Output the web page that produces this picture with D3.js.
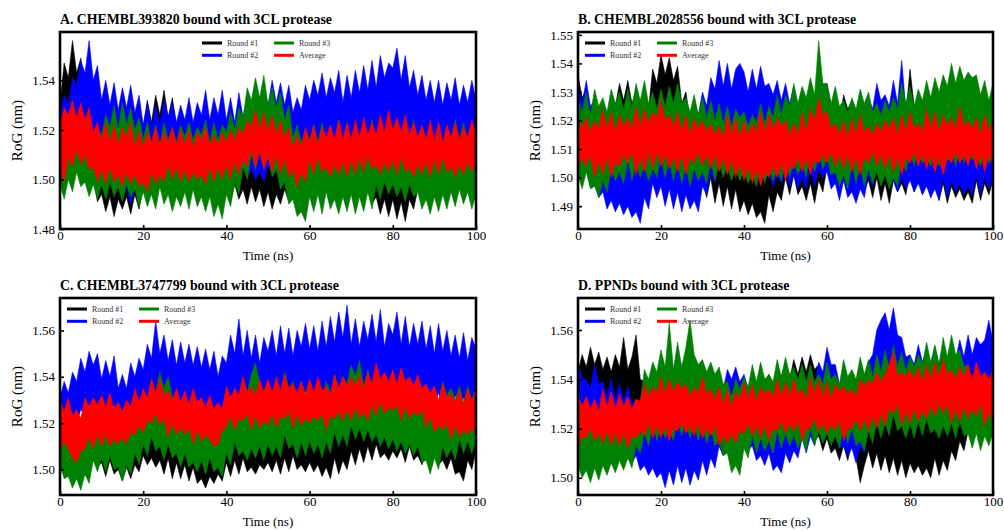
<!DOCTYPE html>
<html><head><meta charset="utf-8">
<script src="https://cdn.jsdelivr.net/npm/d3@7"></script>
<style>body{margin:0;background:#fff}svg{display:block}</style>
</head><body>
<svg id="c" width="1004" height="531"></svg>
<script>
// Time axis (ns)
const timeNs = [0,1,2,3,4,5,6,7,8,9,10,11,12,13,14,15,16,17,18,19,20,21,22,23,24,25,26,27,28,29,30,31,32,33,34,35,36,37,38,39,40,41,42,43,44,45,46,47,48,49,50,51,52,53,54,55,56,57,58,59,60,61,62,63,64,65,66,67,68,69,70,71,72,73,74,75,76,77,78,79,80,81,82,83,84,85,86,87,88,89,90,91,92,93,94,95,96,97,98,99,100];

// RoG envelopes per 1 ns window, in pm (1 nm = 1000 pm): lo = window minimum, hi = window maximum
// ---- Panel A ----
const A_r1_hi = [1530,1547,1541,1556,1543,1549,1531,1536,1522,1527, 1516,1523,1514,1525,1513,1522,1515,1526,1517,1524, 1521,1532,1523,1534,1526,1536,1525,1533,1522,1528, 1517,1524,1516,1525,1518,1523,1515,1526,1516,1524, 1516,1525,1515,1523,1514,1524,1516,1526,1517,1522, 1518,1524,1515,1521,1513,1519,1512,1518,1514,1522, 1513,1523,1515,1521,1514,1522,1516,1524,1513,1522, 1515,1524,1514,1522,1517,1525,1516,1521,1514,1522, 1512,1521,1513,1520,1514,1523,1513,1524,1515,1520, 1514,1522,1515,1523,1514,1525,1515,1522,1513,1523, 1516];
const A_r1_lo = [1510,1504,1515,1508,1514,1506,1508,1498,1501,1491, 1494,1487,1493,1485,1492,1488,1493,1486,1494,1488, 1497,1493,1503,1497,1504,1499,1505,1496,1502,1494, 1498,1492,1497,1491,1499,1493,1498,1490,1497,1493, 1498,1491,1498,1492,1496,1490,1497,1491,1496,1489, 1495,1488,1494,1490,1496,1491,1497,1492,1498,1494, 1499,1493,1500,1492,1499,1494,1500,1493,1498,1494, 1498,1491,1499,1492,1496,1490,1493,1486,1492,1485, 1492,1484,1491,1483,1492,1488,1496,1492,1498,1491, 1498,1492,1499,1493,1500,1492,1497,1493,1498,1493, 1498];
const A_r2_hi = [1526,1534,1530,1541,1538,1548,1543,1556,1540,1546, 1532,1540,1530,1539,1528,1537,1529,1538,1527,1534, 1522,1531,1521,1530,1522,1532,1525,1531,1523,1530, 1524,1533,1523,1531,1526,1536,1524,1533,1526,1536, 1524,1533,1523,1535,1525,1533,1524,1532,1527,1536, 1530,1540,1531,1539,1530,1538,1527,1533,1528,1538, 1532,1540,1534,1543,1533,1541,1535,1544,1531,1542, 1533,1544,1535,1546,1536,1548,1537,1550,1541,1547, 1545,1553,1540,1550,1537,1544,1534,1542,1532,1540, 1531,1540,1530,1539,1532,1541,1530,1538,1531,1540, 1532];
const A_r2_lo = [1510,1505,1513,1508,1516,1511,1518,1513,1516,1508, 1506,1499,1502,1496,1500,1494,1497,1490,1496,1491, 1499,1495,1503,1497,1502,1498,1503,1496,1501,1497, 1500,1494,1501,1495,1503,1497,1504,1498,1505,1499, 1505,1499,1506,1500,1507,1501,1504,1500,1503,1499, 1506,1502,1510,1506,1513,1507,1510,1505,1509,1506, 1514,1508,1515,1509,1516,1510,1513,1509,1514,1510, 1515,1510,1516,1509,1516,1512,1515,1511,1518,1512, 1518,1511,1517,1510,1516,1509,1515,1508,1514,1510, 1513,1509,1512,1508,1515,1509,1514,1508,1514,1510, 1513];
const A_r3_hi = [1510,1516,1512,1518,1514,1517,1512,1519,1514,1521, 1518,1526,1521,1530,1520,1531,1522,1529,1520,1525, 1516,1523,1515,1522,1514,1523,1516,1521,1515,1522, 1517,1523,1516,1521,1518,1524,1515,1523,1516,1522, 1519,1527,1520,1529,1525,1537,1532,1541,1533,1542, 1530,1537,1529,1535,1524,1530,1517,1522,1515,1520, 1516,1522,1515,1523,1514,1521,1515,1524,1514,1520, 1516,1523,1515,1522,1517,1524,1514,1522,1518,1524, 1517,1523,1516,1522,1515,1524,1514,1521,1516,1522, 1515,1523,1514,1522,1515,1524,1516,1523,1515,1521, 1517];
const A_r3_lo = [1498,1492,1500,1495,1503,1497,1499,1493,1498,1492, 1498,1492,1499,1493,1497,1491,1498,1493,1496,1489, 1495,1489,1494,1488,1497,1490,1494,1487,1493,1489, 1495,1488,1496,1489,1493,1487,1493,1485,1490,1484, 1494,1489,1499,1494,1505,1500,1510,1504,1511,1505, 1509,1501,1504,1496,1499,1490,1492,1485,1487,1483, 1493,1487,1494,1486,1495,1488,1492,1486,1493,1487, 1494,1486,1493,1487,1495,1488,1498,1492,1499,1494, 1498,1493,1497,1491,1498,1493,1495,1488,1492,1486, 1493,1487,1494,1488,1495,1489,1496,1490,1495,1488, 1494];
const A_avg_hi = [1522,1529,1526,1532,1525,1531,1524,1529,1519,1523, 1516,1523,1515,1522,1514,1521,1517,1523,1513,1520, 1513,1519,1515,1521,1514,1519,1515,1521,1514,1520, 1514,1520,1513,1519,1516,1521,1514,1518,1514,1519, 1515,1520,1516,1521,1518,1524,1521,1528,1520,1527, 1519,1526,1518,1524,1517,1521,1513,1518,1513,1521, 1515,1522,1514,1521,1517,1522,1516,1524,1516,1523, 1516,1524,1517,1525,1518,1523,1518,1526,1519,1528, 1520,1525,1519,1526,1518,1523,1517,1522,1516,1524, 1516,1523,1515,1522,1517,1523,1516,1521,1517,1524, 1518];
const A_avg_lo = [1504,1499,1509,1505,1512,1506,1510,1504,1505,1499, 1504,1498,1505,1499,1502,1497,1503,1498,1502,1497, 1499,1495,1503,1498,1502,1499,1506,1500,1505,1499, 1504,1499,1503,1500,1502,1498,1505,1499,1505,1500, 1506,1500,1507,1502,1508,1505,1512,1505,1511,1504, 1509,1503,1510,1502,1508,1501,1504,1497,1503,1499, 1508,1502,1509,1503,1505,1501,1506,1502,1507,1501, 1508,1502,1509,1503,1510,1504,1506,1502,1507,1503, 1508,1502,1509,1503,1505,1501,1506,1502,1507,1501, 1508,1502,1509,1503,1505,1501,1506,1502,1507,1503, 1507];

// ---- Panel B ----
const B_r1_hi = [1536,1528,1531,1522,1526,1519,1525,1521,1527,1525, 1533,1527,1534,1526,1530,1520,1528,1524,1538,1533, 1543,1536,1542,1534,1539,1526,1530,1520,1527,1519, 1525,1518,1524,1517,1523,1516,1522,1515,1521,1514, 1520,1513,1519,1512,1518,1513,1520,1514,1521,1515, 1522,1516,1523,1517,1524,1518,1525,1519,1526,1520, 1522,1518,1524,1519,1529,1524,1527,1518,1525,1519, 1521,1517,1523,1516,1523,1517,1524,1518,1525,1522, 1538,1525,1527,1520,1522,1517,1521,1516,1520,1515, 1519,1514,1520,1515,1521,1514,1520,1513,1519,1514, 1520];
const B_r1_lo = [1505,1499,1503,1497,1502,1495,1503,1497,1504,1500, 1508,1504,1512,1505,1506,1500,1507,1501,1508,1504, 1513,1508,1512,1505,1507,1499,1502,1495,1503,1496, 1499,1493,1500,1491,1498,1490,1497,1489,1496,1488, 1492,1487,1491,1486,1488,1484,1494,1488,1495,1492, 1500,1494,1501,1494,1497,1492,1498,1491,1499,1495, 1504,1498,1505,1499,1506,1500,1502,1495,1503,1496, 1499,1493,1500,1492,1498,1491,1499,1495,1498,1494, 1502,1495,1501,1494,1500,1493,1499,1492,1498,1491, 1497,1493,1496,1492,1495,1491,1499,1492,1498,1494, 1499];
const B_r2_hi = [1532,1526,1534,1525,1527,1520,1521,1514,1520,1513, 1519,1512,1518,1511,1513,1510,1518,1513,1520,1514, 1521,1515,1517,1513,1518,1514,1523,1516,1524,1522, 1530,1525,1535,1531,1541,1532,1540,1531,1538,1540, 1537,1530,1538,1531,1539,1532,1533,1529,1534,1527, 1533,1526,1532,1525,1531,1526,1530,1525,1529,1527, 1533,1525,1526,1519,1525,1518,1524,1517,1523,1522, 1528,1524,1533,1527,1529,1525,1534,1526,1541,1524, 1524,1517,1518,1514,1517,1513,1516,1512,1520,1513, 1519,1514,1518,1513,1517,1512,1521,1514,1520,1513, 1519];
const B_r2_lo = [1504,1498,1505,1497,1499,1493,1495,1489,1492,1488, 1491,1487,1490,1486,1488,1484,1493,1489,1498,1493, 1497,1490,1496,1489,1495,1488,1494,1489,1492,1488, 1497,1494,1502,1498,1507,1501,1508,1502,1504,1501, 1505,1498,1504,1497,1503,1499,1502,1497,1501,1498, 1502,1497,1501,1496,1500,1496,1504,1497,1503,1500, 1502,1496,1498,1492,1499,1493,1495,1491,1496,1493, 1501,1497,1505,1498,1504,1497,1499,1495,1500,1496, 1499,1495,1498,1494,1497,1493,1496,1492,1500,1493, 1499,1495,1498,1494,1497,1494,1501,1494,1500,1496, 1500];
const B_r3_hi = [1528,1523,1530,1522,1531,1525,1528,1523,1531,1526, 1530,1524,1531,1525,1533,1527,1534,1526,1530,1524, 1531,1525,1532,1526,1533,1526,1528,1523,1529,1522, 1528,1521,1527,1520,1526,1519,1525,1518,1524,1521, 1523,1518,1522,1519,1526,1519,1525,1521,1529,1522, 1529,1525,1533,1526,1532,1528,1535,1529,1548,1533, 1533,1526,1532,1525,1527,1523,1528,1524,1531,1526, 1530,1523,1526,1522,1527,1523,1528,1524,1533,1526, 1532,1525,1531,1527,1534,1528,1535,1530,1536,1532, 1540,1533,1539,1534,1537,1535,1536,1529,1534,1527, 1533];
const B_r3_lo = [1501,1496,1502,1496,1497,1493,1499,1495,1503,1499, 1502,1498,1506,1499,1505,1500,1504,1499,1503,1500, 1507,1500,1506,1499,1505,1498,1504,1497,1503,1499, 1502,1498,1506,1499,1505,1500,1504,1499,1503,1499, 1502,1498,1501,1497,1505,1498,1504,1499,1503,1499, 1507,1500,1506,1501,1505,1500,1509,1502,1508,1503, 1507,1501,1502,1497,1501,1496,1505,1498,1504,1497, 1503,1498,1502,1497,1501,1496,1500,1497,1506,1502, 1510,1504,1511,1505,1507,1504,1508,1504,1509,1506, 1510,1504,1511,1505,1512,1506,1508,1504,1509,1505, 1509];
const B_avg_hi = [1522,1517,1521,1516,1520,1517,1524,1517,1523,1516, 1522,1518,1521,1517,1525,1518,1524,1519,1523,1521, 1527,1520,1522,1518,1523,1516,1522,1515,1521,1517, 1520,1516,1519,1515,1518,1514,1522,1515,1521,1514, 1520,1515,1519,1516,1523,1516,1522,1517,1521,1518, 1520,1515,1519,1515,1523,1516,1524,1520,1528,1522, 1523,1517,1519,1515,1520,1514,1521,1515,1522,1516, 1518,1515,1519,1516,1520,1517,1521,1515,1522,1516, 1523,1517,1519,1516,1524,1517,1523,1516,1522,1518, 1521,1517,1525,1518,1520,1517,1521,1515,1522,1516, 1521];
const B_avg_lo = [1503,1507,1504,1508,1500,1506,1501,1507,1500,1505, 1504,1508,1505,1509,1501,1507,1502,1509,1503,1509, 1504,1508,1503,1507,1502,1508,1501,1507,1505,1509, 1504,1508,1503,1508,1502,1507,1501,1506,1500,1505, 1499,1504,1498,1503,1497,1502,1500,1504,1500,1505, 1499,1504,1503,1507,1502,1507,1501,1506,1505,1508, 1505,1509,1504,1508,1503,1508,1502,1507,1501,1507, 1505,1509,1504,1508,1503,1508,1502,1507,1501,1507, 1505,1509,1504,1508,1503,1508,1502,1507,1501,1507, 1505,1509,1505,1508,1504,1509,1503,1508,1502,1508, 1504];

// ---- Panel C ----
const C_r1_hi = [1522,1517,1523,1516,1521,1515,1520,1516,1519,1517, 1518,1513,1519,1514,1515,1512,1516,1511,1517,1512, 1520,1517,1521,1519,1522,1517,1523,1515,1521,1514, 1519,1513,1518,1512,1517,1511,1516,1514,1515,1513, 1520,1515,1521,1516,1522,1517,1523,1518,1519,1516, 1520,1517,1521,1518,1527,1519,1521,1516,1522,1517, 1518,1515,1519,1514,1520,1515,1521,1517,1520,1518, 1524,1519,1525,1520,1526,1521,1527,1522,1523,1520, 1524,1521,1525,1520,1526,1521,1522,1519,1523,1518, 1524,1519,1520,1517,1521,1515,1516,1515,1522,1517, 1523];
const C_r1_lo = [1508,1502,1509,1503,1505,1500,1506,1500,1507,1501, 1503,1497,1504,1498,1500,1495,1501,1496,1502,1499, 1506,1502,1505,1501,1504,1498,1505,1496,1503,1496, 1502,1495,1501,1494,1496,1492,1497,1494,1498,1495, 1503,1497,1504,1498,1505,1499,1501,1498,1502,1500, 1503,1499,1504,1498,1505,1499,1506,1500,1502,1499, 1503,1499,1502,1497,1501,1496,1505,1498,1504,1500, 1508,1502,1509,1503,1510,1504,1511,1505,1507,1504, 1508,1505,1509,1503,1510,1504,1506,1502,1507,1501, 1508,1502,1504,1500,1505,1498,1499,1495,1504,1500, 1508];
const C_r2_hi = [1531,1538,1533,1542,1538,1548,1542,1551,1545,1550, 1539,1547,1540,1549,1535,1541,1535,1546,1540,1548, 1543,1554,1548,1564,1550,1558,1547,1556,1545,1555, 1546,1554,1545,1553,1544,1552,1543,1551,1540,1549, 1546,1558,1550,1565,1549,1560,1548,1558,1546,1557, 1551,1560,1549,1562,1550,1561,1549,1560,1553,1563, 1552,1562,1551,1564,1553,1566,1555,1568,1557,1571, 1554,1565,1553,1564,1556,1567,1555,1569,1553,1563, 1558,1568,1554,1566,1553,1563,1554,1564,1552,1562, 1550,1563,1551,1560,1549,1558,1548,1559,1547,1557, 1552];
const C_r2_lo = [1518,1523,1517,1522,1520,1526,1523,1528,1524,1527, 1520,1526,1522,1528,1519,1523,1518,1524,1521,1526, 1523,1529,1526,1532,1524,1528,1523,1529,1521,1526, 1522,1528,1521,1526,1522,1527,1519,1524,1518,1525, 1526,1532,1527,1533,1528,1534,1527,1533,1528,1532, 1528,1533,1529,1534,1530,1535,1528,1533,1529,1534, 1527,1533,1528,1532,1527,1533,1529,1534,1528,1533, 1527,1534,1529,1535,1530,1536,1531,1535,1530,1534, 1531,1535,1529,1534,1528,1533,1529,1534,1527,1532, 1528,1533,1527,1532,1526,1532,1527,1531,1525,1531, 1527];
const C_r3_hi = [1518,1514,1519,1512,1516,1511,1520,1515,1522,1518, 1524,1518,1525,1517,1521,1515,1524,1519,1528,1523, 1533,1528,1539,1533,1542,1535,1540,1531,1532,1526, 1530,1524,1529,1523,1530,1524,1527,1520,1528,1523, 1533,1527,1535,1530,1540,1533,1541,1546,1537,1534, 1538,1532,1539,1533,1542,1535,1538,1531,1538,1532, 1539,1533,1537,1531,1538,1533,1541,1534,1540,1537, 1545,1540,1547,1536,1543,1535,1541,1537,1540,1534, 1541,1535,1539,1533,1538,1532,1539,1533,1535,1530, 1534,1529,1538,1532,1535,1530,1536,1529,1536,1530, 1535];
const C_r3_lo = [1502,1496,1497,1492,1496,1491,1498,1494,1504,1499, 1505,1499,1506,1500,1501,1495,1502,1498,1507,1502, 1511,1506,1514,1508,1510,1504,1511,1505,1507,1501, 1507,1501,1503,1499,1504,1498,1505,1499,1501,1497, 1507,1502,1512,1506,1508,1504,1509,1505,1510,1504, 1511,1506,1510,1505,1515,1509,1511,1505,1512,1506, 1512,1507,1511,1505,1512,1507,1516,1510,1515,1510, 1519,1513,1518,1512,1517,1512,1515,1510,1514,1509, 1513,1508,1512,1507,1511,1506,1510,1503,1504,1498, 1505,1500,1510,1505,1509,1504,1513,1507,1512,1507, 1512];
const C_avg_hi = [1530,1525,1531,1523,1526,1522,1531,1527,1531,1528, 1532,1527,1533,1526,1529,1525,1530,1527,1535,1529, 1535,1531,1539,1533,1539,1532,1534,1530,1535,1529, 1534,1528,1535,1529,1531,1527,1532,1526,1529,1526, 1536,1531,1535,1532,1540,1533,1536,1532,1539,1533, 1539,1533,1540,1534,1541,1535,1537,1533,1538,1532, 1539,1533,1540,1534,1536,1532,1541,1535,1540,1536, 1540,1536,1541,1535,1542,1537,1546,1539,1542,1538, 1543,1537,1544,1538,1540,1536,1541,1535,1537,1533, 1536,1530,1537,1531,1533,1529,1534,1528,1535,1529, 1535];
const C_avg_lo = [1508,1512,1509,1505,1503,1508,1509,1514,1509,1515, 1510,1515,1510,1513,1511,1514,1511,1516,1515,1519, 1516,1521,1520,1524,1519,1522,1514,1520,1515,1518, 1515,1518,1511,1517,1512,1515,1513,1510,1511,1517, 1518,1523,1517,1522,1521,1524,1517,1523,1518,1521, 1519,1524,1518,1523,1522,1525,1518,1524,1519,1522, 1520,1523,1521,1524,1517,1523,1522,1525,1521,1526, 1521,1527,1522,1525,1521,1528,1523,1529,1524,1527, 1525,1528,1521,1527,1522,1525,1523,1526,1518,1523, 1516,1519,1517,1520,1513,1519,1514,1517,1515,1518, 1515];

// ---- Panel D ----
const D_r1_hi = [1543,1550,1545,1553,1546,1551,1544,1549,1543,1550, 1545,1557,1544,1549,1558,1540,1539,1532,1535,1530, 1534,1528,1535,1529,1532,1527,1535,1528,1534,1527, 1533,1528,1532,1526,1533,1527,1530,1526,1534,1533, 1539,1533,1540,1534,1541,1535,1542,1536,1543,1541, 1547,1540,1548,1542,1549,1543,1550,1544,1546,1542, 1544,1537,1539,1531,1533,1529,1532,1527,1531,1527, 1530,1524,1529,1522,1530,1523,1531,1522,1529,1521, 1528,1520,1527,1519,1526,1522,1525,1521,1530,1527, 1529,1522,1530,1527,1535,1529,1537,1531,1538,1532, 1539];
const D_r1_lo = [1526,1522,1530,1523,1529,1525,1528,1524,1527,1523, 1531,1524,1530,1523,1529,1520,1521,1514,1520,1513, 1519,1512,1518,1511,1517,1513,1516,1512,1515,1513, 1519,1512,1518,1511,1513,1509,1514,1508,1515,1513, 1519,1513,1520,1514,1521,1515,1522,1516,1523,1517, 1523,1517,1524,1518,1520,1516,1521,1515,1517,1511, 1516,1510,1512,1507,1513,1507,1514,1508,1498,1505, 1511,1504,1510,1503,1509,1502,1508,1501,1507,1500, 1506,1502,1505,1501,1504,1500,1508,1501,1507,1503, 1511,1507,1515,1511,1519,1514,1520,1516,1519,1515, 1523];
const D_r2_hi = [1547,1540,1540,1536,1546,1538,1539,1533,1540,1532, 1538,1531,1537,1530,1532,1526,1532,1525,1531,1524, 1530,1523,1529,1522,1528,1526,1527,1523,1531,1524, 1530,1527,1535,1531,1540,1536,1544,1540,1545,1539, 1542,1536,1537,1533,1536,1532,1535,1529,1536,1530, 1537,1533,1536,1532,1541,1535,1542,1538,1547,1543, 1553,1546,1546,1538,1539,1535,1538,1534,1537,1538, 1547,1550,1560,1564,1567,1560,1569,1558,1557,1549, 1550,1546,1554,1547,1552,1545,1553,1546,1554,1547, 1555,1548,1556,1549,1558,1550,1557,1554,1556,1564, 1555];
const D_r2_lo = [1523,1517,1518,1512,1518,1511,1513,1509,1512,1508, 1511,1507,1510,1506,1509,1503,1505,1501,1504,1500, 1502,1496,1503,1497,1505,1498,1504,1497,1503,1499, 1507,1501,1508,1504,1513,1509,1519,1515,1523,1516, 1518,1511,1513,1507,1509,1505,1510,1503,1505,1502, 1510,1506,1511,1508,1516,1510,1517,1513,1521,1517, 1525,1518,1519,1512,1513,1509,1512,1506,1513,1510, 1520,1518,1532,1531,1539,1532,1540,1531,1532,1525, 1527,1523,1528,1524,1529,1522,1529,1523,1530,1524, 1531,1526,1530,1527,1532,1528,1533,1529,1534,1530, 1535];
const D_r3_hi = [1529,1522,1528,1521,1527,1520,1526,1522,1527,1520, 1526,1522,1525,1521,1530,1531,1544,1540,1547,1543, 1552,1545,1563,1544,1555,1545,1553,1564,1550,1546, 1548,1543,1547,1542,1545,1538,1539,1533,1540,1536, 1541,1537,1546,1539,1547,1540,1542,1539,1548,1541, 1549,1542,1545,1540,1546,1539,1546,1539,1542,1538, 1547,1540,1542,1538,1548,1541,1544,1540,1549,1542, 1548,1541,1550,1543,1552,1544,1554,1545,1551,1543, 1549,1545,1550,1546,1555,1547,1554,1546,1557,1549, 1558,1550,1552,1545,1546,1539,1545,1538,1540,1537, 1541];
const D_r3_lo = [1505,1500,1503,1498,1504,1499,1505,1501,1506,1502, 1507,1503,1508,1504,1513,1510,1518,1513,1522,1515, 1521,1516,1520,1515,1524,1517,1523,1516,1522,1515, 1521,1514,1520,1513,1515,1509,1510,1502,1505,1501, 1512,1508,1517,1510,1516,1511,1515,1510,1519,1512, 1518,1513,1517,1512,1516,1511,1520,1513,1519,1514, 1518,1513,1517,1512,1521,1514,1520,1513,1515,1511, 1519,1514,1523,1516,1522,1517,1526,1519,1521,1516, 1522,1516,1523,1517,1524,1518,1520,1516,1521,1517, 1522,1516,1523,1517,1518,1512,1518,1511,1517,1513, 1518];
const D_avg_hi = [1534,1529,1533,1528,1532,1527,1536,1529,1535,1528, 1534,1529,1533,1528,1532,1531,1538,1533,1537,1534, 1541,1534,1540,1535,1539,1536,1538,1533,1537,1534, 1541,1534,1536,1532,1537,1530,1536,1529,1535,1532, 1539,1532,1538,1531,1537,1534,1536,1533,1540,1533, 1539,1533,1540,1534,1536,1532,1541,1534,1540,1533, 1539,1532,1538,1535,1537,1534,1536,1533,1540,1537, 1540,1538,1543,1539,1542,1546,1551,1541,1543,1541, 1544,1540,1545,1539,1546,1540,1547,1541,1548,1542, 1544,1540,1545,1541,1546,1540,1547,1541,1543,1540, 1544];
const D_avg_lo = [1512,1517,1516,1520,1515,1518,1514,1519,1513,1518, 1513,1518,1512,1517,1516,1519,1517,1522,1516,1521, 1516,1521,1515,1520,1519,1522,1518,1521,1517,1522, 1516,1520,1517,1521,1513,1517,1514,1518,1514,1519, 1518,1522,1517,1521,1516,1521,1515,1520,1519,1523, 1518,1522,1519,1523,1515,1520,1520,1524,1519,1522, 1518,1522,1519,1523,1515,1520,1520,1524,1519,1524, 1519,1525,1520,1526,1521,1528,1526,1530,1521,1527, 1522,1528,1523,1527,1524,1529,1525,1530,1526,1530, 1522,1528,1523,1529,1524,1528,1525,1530,1521,1527, 1522];

const seriesNames = ["Round #1", "Round #2", "Round #3", "Average"];
const seriesColors = ["#000000", "#0000ff", "#008000", "#ff0000"];
const panelTitles = [
  "A. CHEMBL393820 bound with 3CL protease",
  "B. CHEMBL2028556 bound with 3CL protease",
  "C. CHEMBL3747799 bound with 3CL protease",
  "D. PPNDs bound with 3CL protease"
];
const xTicks = [0, 20, 40, 60, 80, 100];
const yTicksA = [1.48, 1.50, 1.52, 1.54];
const yTicksB = [1.49, 1.50, 1.51, 1.52, 1.53, 1.54, 1.55];
const yTicksC = [1.50, 1.52, 1.54, 1.56];
const yTicksD = [1.50, 1.52, 1.54, 1.56];
const xLabel = "Time (ns)";
const yLabel = "RoG (nm)";

const panels = [
  {title: panelTitles[0], box: {x0: 60, x1: 476, y0: 32, y1: 229}, yDomain: [1.48, 1.5595], yTicks: yTicksA, legendDx: 142,
   data: [[A_r1_lo, A_r1_hi], [A_r2_lo, A_r2_hi], [A_r3_lo, A_r3_hi], [A_avg_lo, A_avg_hi]]},
  {title: panelTitles[1], box: {x0: 578, x1: 993, y0: 32, y1: 229}, yDomain: [1.482, 1.551], yTicks: yTicksB, legendDx: 7,
   data: [[B_r1_lo, B_r1_hi], [B_r2_lo, B_r2_hi], [B_r3_lo, B_r3_hi], [B_avg_lo, B_avg_hi]]},
  {title: panelTitles[2], box: {x0: 60, x1: 476, y0: 298, y1: 495}, yDomain: [1.489, 1.574], yTicks: yTicksC, legendDx: 7,
   data: [[C_r1_lo, C_r1_hi], [C_r2_lo, C_r2_hi], [C_r3_lo, C_r3_hi], [C_avg_lo, C_avg_hi]]},
  {title: panelTitles[3], box: {x0: 578, x1: 993, y0: 298, y1: 495}, yDomain: [1.493, 1.573], yTicks: yTicksD, legendDx: 7,
   data: [[D_r1_lo, D_r1_hi], [D_r2_lo, D_r2_hi], [D_r3_lo, D_r3_hi], [D_avg_lo, D_avg_hi]]}
];

const svg = d3.select("#c");
const serif = "'Liberation Serif','Times New Roman',serif";
const defs = svg.append("defs");

panels.forEach((p, pi) => {
  const b = p.box;
  const x = d3.scaleLinear().domain([0, 100]).range([b.x0, b.x1]);
  const y = d3.scaleLinear().domain(p.yDomain).range([b.y1, b.y0]);
  const clipId = "clip" + pi;
  defs.append("clipPath").attr("id", clipId).append("rect")
    .attr("x", b.x0).attr("y", b.y0).attr("width", b.x1 - b.x0).attr("height", b.y1 - b.y0);

  const plot = svg.append("g").attr("clip-path", `url(#${clipId})`);
  p.data.forEach(([lo, hi], si) => {
    const pts = timeNs.map((t, i) => ({t: t, lo: lo[i] / 1000, hi: hi[i] / 1000}));
    const area = d3.area().x(d => x(d.t)).y0(d => y(d.lo)).y1(d => y(d.hi));
    plot.append("path").attr("d", area(pts))
      .attr("fill", seriesColors[si]).attr("stroke", seriesColors[si])
      .attr("stroke-width", 0.6).attr("stroke-linejoin", "miter").attr("stroke-miterlimit", 20);
  });

  // axes
  const gx = svg.append("g").attr("transform", `translate(0,${b.y1})`)
    .call(d3.axisBottom(x).tickValues(xTicks).tickSizeInner(-4).tickSizeOuter(0).tickPadding(2).tickFormat(d3.format("d")));
  const gy = svg.append("g").attr("transform", `translate(${b.x0},0)`)
    .call(d3.axisLeft(y).tickValues(p.yTicks).tickSizeInner(-4).tickSizeOuter(0).tickPadding(5).tickFormat(d3.format(".2f")));
  [gx, gy].forEach(g => {
    g.select(".domain").remove();
    g.selectAll(".tick line").attr("stroke", "#000").attr("stroke-width", 1.6);
    g.selectAll(".tick text").attr("font-family", serif).attr("font-size", 13).attr("fill", "#000");
  });

  // frame
  svg.append("rect").attr("x", b.x0).attr("y", b.y0).attr("width", b.x1 - b.x0).attr("height", b.y1 - b.y0)
    .attr("fill", "none").attr("stroke", "#000").attr("stroke-width", 2.6);

  // title
  svg.append("text").attr("x", b.x0).attr("y", b.y0 - 8.5)
    .attr("font-family", serif).attr("font-weight", "bold").attr("font-size", 13.8).attr("fill", "#000")
    .text(p.title);

  // axis labels
  svg.append("text").attr("x", (b.x0 + b.x1) / 2).attr("y", b.y1 + 31).attr("text-anchor", "middle")
    .attr("font-family", serif).attr("font-size", 13).attr("fill", "#000").text(xLabel);
  svg.append("text").attr("transform", `translate(${b.x0 - 38},${(b.y0 + b.y1) / 2}) rotate(-90)`)
    .attr("text-anchor", "middle").attr("font-family", serif).attr("font-size", 15).attr("fill", "#000").text(yLabel);

  // legend
  const lx = b.x0 + p.legendDx;
  const order = [[0, 0, 0], [1, 0, 1], [2, 1, 0], [3, 1, 1]]; // series, column, row
  order.forEach(([si, col, row]) => {
    const ox = lx + col * 72, oy = b.y0 + 11 + row * 12.3;
    svg.append("line").attr("x1", ox).attr("x2", ox + 20).attr("y1", oy).attr("y2", oy)
      .attr("stroke", seriesColors[si]).attr("stroke-width", 3);
    svg.append("text").attr("x", ox + 25).attr("y", oy).attr("dy", "0.33em")
      .attr("font-family", serif).attr("font-size", 8).attr("fill", "#333").text(seriesNames[si]);
  });
});
</script>
</body></html>
